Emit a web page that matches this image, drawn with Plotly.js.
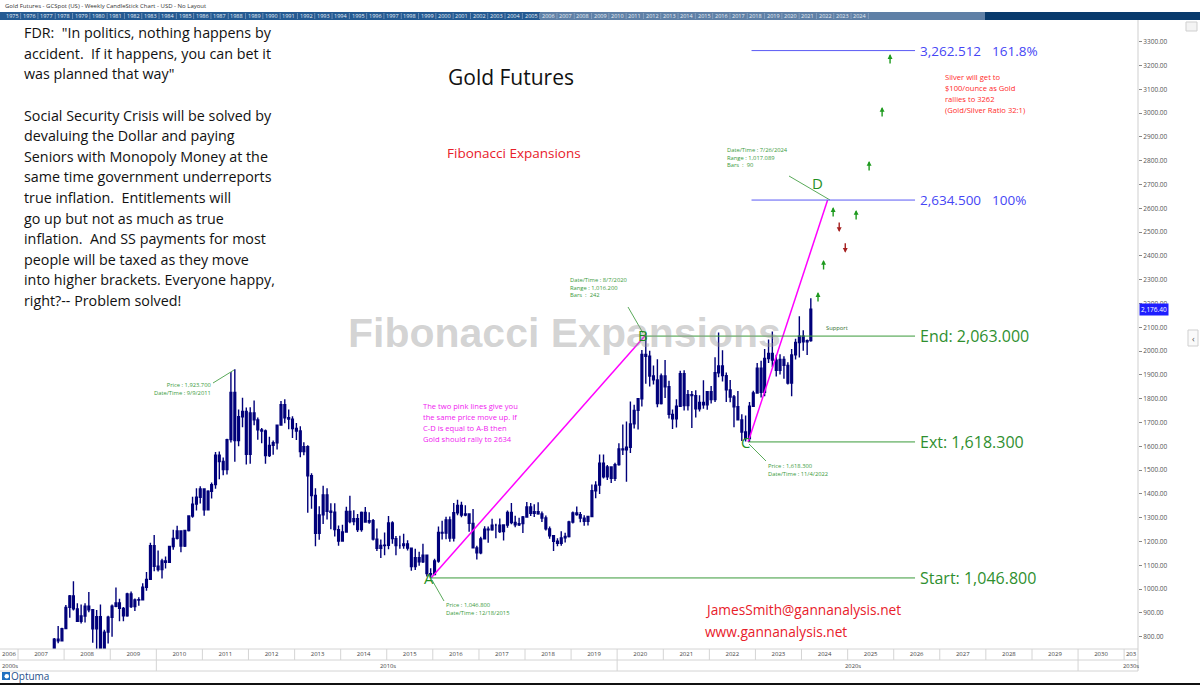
<!DOCTYPE html>
<html><head><meta charset="utf-8">
<script src="https://cdn.plot.ly/plotly-3.0.1.min.js"></script>
<style>html,body{margin:0;padding:0;background:#fff;} #chart{width:1200px;height:685px;}</style>
</head><body><div id="chart"></div>
<script>
// ---------------- DATA (monthly candles) ----------------
const monthDates = [
'2007-06-15','2007-07-15','2007-08-15','2007-09-15','2007-10-15','2007-11-15','2007-12-15',
'2008-01-15','2008-02-15','2008-03-15','2008-04-15','2008-05-15','2008-06-15','2008-07-15','2008-08-15','2008-09-15','2008-10-15','2008-11-15','2008-12-15',
'2009-01-15','2009-02-15','2009-03-15','2009-04-15','2009-05-15','2009-06-15','2009-07-15','2009-08-15','2009-09-15','2009-10-15','2009-11-15','2009-12-15',
'2010-01-15','2010-02-15','2010-03-15','2010-04-15','2010-05-15','2010-06-15','2010-07-15','2010-08-15','2010-09-15','2010-10-15','2010-11-15','2010-12-15',
'2011-01-15','2011-02-15','2011-03-15','2011-04-15','2011-05-15','2011-06-15','2011-07-15','2011-08-15','2011-09-15','2011-10-15','2011-11-15','2011-12-15',
'2012-01-15','2012-02-15','2012-03-15','2012-04-15','2012-05-15','2012-06-15','2012-07-15','2012-08-15','2012-09-15','2012-10-15','2012-11-15','2012-12-15',
'2013-01-15','2013-02-15','2013-03-15','2013-04-15','2013-05-15','2013-06-15','2013-07-15','2013-08-15','2013-09-15','2013-10-15','2013-11-15','2013-12-15',
'2014-01-15','2014-02-15','2014-03-15','2014-04-15','2014-05-15','2014-06-15','2014-07-15','2014-08-15','2014-09-15','2014-10-15','2014-11-15','2014-12-15',
'2015-01-15','2015-02-15','2015-03-15','2015-04-15','2015-05-15','2015-06-15','2015-07-15','2015-08-15','2015-09-15','2015-10-15','2015-11-15','2015-12-15',
'2016-01-15','2016-02-15','2016-03-15','2016-04-15','2016-05-15','2016-06-15','2016-07-15','2016-08-15','2016-09-15','2016-10-15','2016-11-15','2016-12-15',
'2017-01-15','2017-02-15','2017-03-15','2017-04-15','2017-05-15','2017-06-15','2017-07-15','2017-08-15','2017-09-15','2017-10-15','2017-11-15','2017-12-15',
'2018-01-15','2018-02-15','2018-03-15','2018-04-15','2018-05-15','2018-06-15','2018-07-15','2018-08-15','2018-09-15','2018-10-15','2018-11-15','2018-12-15',
'2019-01-15','2019-02-15','2019-03-15','2019-04-15','2019-05-15','2019-06-15','2019-07-15','2019-08-15','2019-09-15','2019-10-15','2019-11-15','2019-12-15',
'2020-01-15','2020-02-15','2020-03-15','2020-04-15','2020-05-15','2020-06-15','2020-07-15','2020-08-15','2020-09-15','2020-10-15','2020-11-15','2020-12-15',
'2021-01-15','2021-02-15','2021-03-15','2021-04-15','2021-05-15','2021-06-15','2021-07-15','2021-08-15','2021-09-15','2021-10-15','2021-11-15','2021-12-15',
'2022-01-15','2022-02-15','2022-03-15','2022-04-15','2022-05-15','2022-06-15','2022-07-15','2022-08-15','2022-09-15','2022-10-15','2022-11-15','2022-12-15',
'2023-01-15','2023-02-15','2023-03-15','2023-04-15','2023-05-15','2023-06-15','2023-07-15','2023-08-15','2023-09-15','2023-10-15','2023-11-15','2023-12-15',
'2024-01-15','2024-02-15','2024-03-15'
];
const openP = [
659,650,666,673,743,789,783,
834,923,971,917,865,887,928,913,833,884,718,819,
882,928,942,919,888,980,927,954,955,1008,1041,1182,
1096,1082,1118,1113,1179,1213,1244,1181,1246,1307,1357,1386,
1421,1333,1411,1439,1563,1536,1502,1628,1826,1624,1724,1746,
1566,1740,1711,1669,1664,1561,1604,1615,1689,1775,1720,1714,
1675,1664,1578,1598,1476,1393,1234,1312,1396,1327,1323,1250,
1202,1240,1326,1284,1296,1250,1322,1282,1287,1210,1171,1183,
1184,1278,1212,1183,1183,1190,1172,1095,1132,1115,1142,1065,
1061,1118,1238,1235,1291,1214,1321,1351,1311,1316,1276,1173,
1152,1211,1252,1249,1268,1268,1242,1269,1322,1280,1270,1275,
1303,1345,1318,1325,1316,1299,1253,1224,1201,1192,1215,1221,
1282,1320,1313,1298,1285,1305,1413,1437,1529,1472,1513,1465,
1523,1589,1585,1596,1694,1751,1800,1986,1978,1895,1879,1780,
1895,1850,1734,1715,1768,1905,1771,1817,1813,1757,1784,1774,
1829,1796,1909,1937,1897,1837,1807,1766,1711,1660,1633,1768,
1824,1928,1827,1969,1990,1962,1919,1965,1940,1866,1984,2036,
2062,2039,2044
];
const highP = [
672,684,679,745,795,845,838,
933,975,1033,941,935,940,988,916,912,935,829,888,
935,1007,959,925,985,990,960,966,1025,1072,1195,1227,
1162,1127,1137,1182,1249,1266,1245,1248,1310,1388,1424,1432,
1424,1415,1448,1576,1578,1553,1632,1912,1923.7,1755,1804,1763,
1764,1792,1721,1677,1670,1640,1624,1692,1790,1798,1755,1726,
1698,1684,1617,1604,1487,1424,1348,1434,1424,1361,1361,1267,
1270,1346,1392,1331,1315,1326,1345,1323,1294,1255,1208,1238,
1307,1285,1223,1224,1232,1205,1175,1170,1157,1191,1142,1088,
1128,1263,1287,1304,1305,1362,1375,1367,1352,1317,1337,1182,
1220,1264,1263,1296,1275,1297,1272,1330,1362,1308,1300,1307,
1366,1362,1356,1365,1326,1309,1263,1227,1214,1243,1237,1287,
1326,1347,1324,1310,1306,1439,1453,1566,1566,1521,1514,1531,
1613,1691,1704,1788,1775,1800,2005,2075,2001,1939,1966,1906,
1962,1875,1755,1798,1917,1919,1836,1832,1835,1814,1877,1831,
1853,1974,2078,2003,1910,1879,1815,1832,1735,1729,1786,1833,
1950,1959,2009,2049,2082,1985,1987,1978,1953,2009,2052,2146,
2088,2049,2222
];
const lowP = [
642,647,652,670,723,772,782,
832,880,910,863,855,860,903,775,736,681,700,771,
800,924,865,865,884,921,908,930,952,993,1040,1075,
1074,1045,1087,1113,1165,1208,1155,1177,1242,1300,1330,1360,
1308,1330,1381,1422,1462,1478,1481,1616,1535,1600,1680,1523,
1527,1688,1627,1613,1527,1555,1564,1587,1687,1697,1672,1635,
1626,1554,1562,1321,1338,1180,1207,1274,1292,1251,1221,1182,
1200,1238,1277,1268,1240,1241,1280,1275,1204,1160,1131,1142,
1167,1191,1142,1170,1170,1162,1077,1080,1098,1110,1053,1046.8,
1061,1111,1208,1209,1199,1200,1310,1302,1306,1241,1171,1124,
1146,1208,1195,1245,1214,1236,1204,1258,1272,1260,1265,1236,
1303,1307,1303,1312,1282,1246,1211,1160,1180,1182,1196,1217,
1276,1308,1281,1266,1267,1302,1382,1400,1465,1458,1446,1454,
1518,1563,1451,1572,1675,1671,1767,1863,1851,1860,1764,1776,
1803,1717,1673,1679,1766,1750,1750,1677,1721,1746,1758,1753,
1780,1786,1890,1872,1786,1785,1680,1711,1622,1620,1618.3,1765,
1824,1805,1810,1950,1932,1893,1902,1884,1860,1810,1965,1973,
2001,1984,2039
];
const closeP = [
650,666,673,743,789,783,834,
923,971,917,865,887,928,913,833,884,718,819,882,
928,942,919,888,980,927,954,955,1008,1041,1182,1096,
1082,1118,1113,1179,1213,1244,1181,1246,1307,1357,1386,1421,
1333,1411,1439,1563,1536,1502,1628,1826,1624,1724,1746,1566,
1740,1711,1669,1664,1561,1604,1615,1689,1775,1720,1714,1675,
1664,1578,1598,1476,1393,1234,1312,1396,1327,1323,1250,1202,
1240,1326,1284,1296,1250,1322,1282,1287,1210,1171,1183,1184,
1278,1212,1183,1183,1190,1172,1095,1132,1115,1142,1065,1061,
1118,1238,1235,1291,1214,1321,1351,1311,1316,1276,1173,1152,
1211,1252,1249,1268,1268,1242,1269,1322,1280,1270,1275,1303,
1345,1318,1325,1316,1299,1253,1224,1201,1192,1215,1221,1282,
1320,1313,1298,1285,1305,1413,1437,1529,1472,1513,1465,1523,
1589,1585,1596,1694,1751,1800,1986,1978,1895,1879,1780,1895,
1850,1734,1715,1768,1905,1771,1817,1813,1757,1784,1774,1829,
1796,1909,1937,1897,1837,1807,1766,1711,1660,1633,1768,1824,
1928,1827,1969,1990,1962,1919,1965,1940,1866,1984,2036,2062,
2039,2044,2176.4
];
const lastPrice = 2176.40;

// pivots A-B-C-D
const pivotNames  = ['A','B','C','D'];
const pivotDates  = ['2015-12-18','2020-08-07','2022-11-04','2024-07-26'];
const pivotPrices = [1046.8, 2063.0, 1618.3, 2634.5];

// Fibonacci expansion levels
const fibLevels     = [1046.8, 1618.3, 2063.0, 2634.5, 3262.512];
const fibNames      = ['Start: 1,046.800','Ext: 1,618.300','End: 2,063.000','2,634.500','3,262.512'];
const fibPercents   = ['','','','100%','161.8%'];
const fibStartDates = ['2015-12-18','2022-11-04','2020-08-07','2022-12-01','2022-12-01'];
const fibEndDate    = '2026-06-19';

// projected arrows
const upArrowDates   = ['2024-05-11','2024-06-24','2024-09-08','2025-03-09','2025-06-20','2025-10-01','2025-12-03'];
const upArrowPrices  = [2248, 2383, 2605, 2593, 2799, 3026, 3248];
const downArrowDates = ['2024-10-26','2024-12-13'];
const downArrowPrices= [2500, 2413];

// axis labels
const yearTickLabels = ['2006','2007','2008','2009','2010','2011','2012','2013','2014','2015','2016','2017','2018','2019','2020','2021','2022','2023','2024','2025','2026','2027','2028','2029','2030','203'];
const decadeLabels = ['2000s','2010s','2020s','2030s'];
const stripYears = ['1975','1976','1977','1978','1979','1980','1981','1982','1983','1984','1985','1986','1987','1988','1989','1990','1991','1992','1993','1994','1995','1996','1997','1998','1999','2000','2001','2002','2003','2004','2005','2006','2007','2008','2009','2010','2011','2012','2013','2014','2015','2016','2017','2018','2019','2020','2021','2022','2023','2024'];

// texts
const quoteLines = [
 'FDR:  "In politics, nothing happens by',
 'accident.  If it happens, you can bet it',
 'was planned that way"',
 '',
 'Social Security Crisis will be solved by',
 'devaluing the Dollar and paying',
 'Seniors with Monopoly Money at the',
 'same time government underreports',
 'true inflation.  Entitlements will',
 'go up but not as much as true',
 'inflation.  And SS payments for most',
 'people will be taxed as they move',
 'into higher brackets. Everyone happy,',
 'right?-- Problem solved!'
];
const pinkNoteLines = ['The two pink lines give you','the same price move up. If','C-D is equal to A-B then','Gold should rally to 2634'];
const silverLines = ['Silver will get to','$100/ounce as Gold','rallies to 3262','(Gold/Silver Ratio 32:1)'];

// ---------------- LAYOUT HELPERS ----------------
const W=1200, H=685, ML=0, MR=62, MT=20, MB=36;
const PW=W-ML-MR, PH=H-MT-MB;
const px = x => (x-ML)/PW;
const py = y => (H-MB-y)/PH;
const FONT = 'Open Sans, Noto Sans, sans-serif';

const annotations = [];
const shapes = [];
function txt(x, y, text, size, color, anchor, extra) {
  const a = anchor||'left';
  const xx = a==='left' ? x-2 : (a==='right' ? x+2 : x);
  annotations.push(Object.assign({xref:'paper', yref:'paper', x:px(xx), y:py(y), text:text, showarrow:false,
    xanchor:a, yanchor:'middle', font:{family:FONT, size:size, color:color}}, extra||{}));
}
function pline(x0,y0,x1,y1,color,width) {
  shapes.push({type:'line', xref:'paper', yref:'paper', x0:px(x0), y0:py(y0), x1:px(x1), y1:py(y1), line:{color:color, width:width||1}});
}

// header and navigator strip
txt(5, 6, 'Gold Futures - GCSpot (US) - Weekly CandleStick Chart - USD - No Layout', 6, '#333');
shapes.push({type:'rect', xref:'paper', yref:'paper', x0:px(0), x1:px(540), y0:py(20), y1:py(12), fillcolor:'#245a92', line:{width:0}});
shapes.push({type:'rect', xref:'paper', yref:'paper', x0:px(540), x1:px(985), y0:py(20), y1:py(12), fillcolor:'#5f80a6', line:{width:0}});
shapes.push({type:'rect', xref:'paper', yref:'paper', x0:px(985), x1:px(1200), y0:py(20), y1:py(12), fillcolor:'#083a6c', line:{width:0}});
stripYears.forEach((yr,i)=>{
  const cx = 12 + i*17.3;
  txt(cx, 16, yr, 5.5, '#e6edf5', 'center');
  pline(cx+8.65, 13, cx+8.65, 19, '#9fb4cc', 0.6);
});

// left quote block
quoteLines.forEach((ln,i)=>{ if(ln) txt(24, 32.7 + i*20.6, ln, 14.3, '#111'); });

// titles
txt(511, 77, 'Gold Futures', 21, '#111', 'center');
txt(514, 153, 'Fibonacci Expansions', 13.5, '#e8202a', 'center');
txt(564, 333, '<b>Fibonacci Expansions</b>', 41, 'rgba(150,150,150,0.42)', 'center', {font:{family:'Liberation Sans, Arial, sans-serif', size:41, color:'rgba(150,150,150,0.42)'}});

// notes
pinkNoteLines.forEach((ln,i)=> txt(423, 405.7 + i*11.2, ln, 7.6, '#f020f0'));
silverLines.forEach((ln,i)=> txt(945, 76.7 + i*11.2, ln, 7.6, '#ff2a2a'));
txt(705, 609, 'JamesSmith@gannanalysis.net', 13.7, '#e8202a');
txt(705, 631, 'www.gannanalysis.net', 13.7, '#e8202a');
txt(826, 328, 'Support', 5.8, '#2e6e2e');

// small pivot info labels and leaders
const GREEN_S = '#3a9a3a';
txt(211, 388.5, 'Price : 1,923.700<br>Date/Time : 9/9/2011', 5.8, GREEN_S, 'right', {align:'right'});
pline(213, 383, 234, 370, '#5aaa5a', 1);
txt(570, 287, 'Date/Time : 8/7/2020<br>Range : 1,016.200<br>Bars  :  242', 5.8, GREEN_S, 'left', {align:'left'});
pline(628, 307, 643, 333, '#5aaa5a', 1);
txt(727, 157, 'Date/Time : 7/26/2024<br>Range : 1,017.089<br>Bars  :  90', 5.8, GREEN_S, 'left', {align:'left'});
pline(789, 176, 830, 200, '#5aaa5a', 1);
txt(768, 470, 'Price : 1,618.300<br>Date/Time : 11/4/2022', 5.8, GREEN_S, 'left', {align:'left'});
pline(749, 444, 766, 461, '#5aaa5a', 1);
txt(446, 609, 'Price : 1,046.800<br>Date/Time : 12/18/2015', 5.8, GREEN_S, 'left', {align:'left'});
pline(432, 580, 444, 601, '#5aaa5a', 1);

// pink A-B and C-D lines
[[0,1],[2,3]].forEach(([a,b])=>{
  shapes.push({type:'line', xref:'x', yref:'y', x0:pivotDates[a], y0:pivotPrices[a], x1:pivotDates[b], y1:pivotPrices[b], line:{color:'#ff00ff', width:1.5}});
});
// pivot letters
const letterShift = [[-2,0],[-2,1],[-3,0],[-10,17]];
pivotNames.forEach((n,i)=>{
  annotations.push({xref:'x', yref:'y', x:pivotDates[i], y:pivotPrices[i], text:n, showarrow:false,
    xshift:letterShift[i][0], yshift:letterShift[i][1], font:{family:FONT, size:15, color:'#1f8f1f'}});
});

// Fibonacci levels
fibLevels.forEach((lv,i)=>{
  const blue = fibPercents[i] !== '';
  const col = blue ? '#4646f5' : '#2f8f2f';
  shapes.push({type:'line', xref:'x', yref:'y', x0:fibStartDates[i], x1:fibEndDate, y0:lv, y1:lv, line:{color: blue ? '#5a5af5' : '#3a9a3a', width:1}});
  annotations.push({xref:'x', yref:'y', x:fibEndDate, y:lv, text:fibNames[i], showarrow:false, xanchor:'left', xshift:3,
    font:{family:FONT, size:blue?13.5:16, color:col}});
  if (blue) annotations.push({xref:'paper', yref:'y', x:px(990), y:lv, text:fibPercents[i], showarrow:false, xanchor:'left',
    font:{family:FONT, size:13.5, color:col}});
});

// projected arrows
upArrowDates.forEach((d,i)=> annotations.push({xref:'x', yref:'y', x:d, y:upArrowPrices[i], ax:0, ay:11, text:'', showarrow:true,
  arrowhead:2, arrowsize:0.7, arrowwidth:1.4, arrowcolor:'#1e9a1e', standoff:0}));
downArrowDates.forEach((d,i)=> annotations.push({xref:'x', yref:'y', x:d, y:downArrowPrices[i], ax:0, ay:-11, text:'', showarrow:true,
  arrowhead:2, arrowsize:0.7, arrowwidth:1.4, arrowcolor:'#a52020', standoff:0}));

// last price tag
annotations.push({xref:'paper', yref:'y', x:px(1139), y:lastPrice, text:'2,176.40', showarrow:false, xanchor:'left',
  bgcolor:'#1e1eff', borderpad:1, font:{family:FONT, size:6.5, color:'#fff'}});

// bottom axis rows
const row1Top=649, row1Bot=660, row2Bot=671;
[row1Top,row1Bot,row2Bot].forEach(y=> pline(0,y,1138,y,'#d4d4d4',1));
pline(1138, 20, 1138, row2Bot, '#cfcfcf', 1);
for (let yr=2007; yr<=2031; yr++) {
  shapes.push({type:'line', xref:'x', yref:'paper', x0:yr+'-01-01', x1:yr+'-01-01', y0:py(row1Bot), y1:py(row1Top), line:{color:'#d4d4d4', width:1}});
}
['2010','2020','2030'].forEach(yr=> shapes.push({type:'line', xref:'x', yref:'paper', x0:yr+'-01-01', x1:yr+'-01-01', y0:py(row2Bot), y1:py(row1Bot), line:{color:'#d4d4d4', width:1}}));
txt(2, 665.5, decadeLabels[0], 5.8, '#444', 'left');
txt(388, 665.5, decadeLabels[1], 5.8, '#444', 'center');
txt(853, 665.5, decadeLabels[2], 5.8, '#444', 'center');
txt(1131, 665.5, decadeLabels[3], 5.8, '#444', 'center');
const yearTickDates = yearTickLabels.map((l,i)=> i===0 ? '2006-10-21' : (i===yearTickLabels.length-1 ? '2031-02-25' : l+'-07-02'));

// Optuma logo
shapes.push({type:'rect', xref:'paper', yref:'paper', x0:px(2), x1:px(10), y0:py(680), y1:py(672), fillcolor:'#1f6fc0', line:{width:0}});
shapes.push({type:'circle', xref:'paper', yref:'paper', x0:px(4.5), x1:px(9), y0:py(678.5), y1:py(674), fillcolor:'#fff', line:{width:0}});
txt(11, 676, 'Optuma', 10, '#1f4f8c', 'left');
shapes.push({type:'rect', xref:'paper', yref:'paper', x0:px(0), x1:px(1200), y0:py(685), y1:py(683), fillcolor:'#111', line:{width:0}});
// side controls
shapes.push({type:'rect', xref:'paper', yref:'paper', x0:px(1188), x1:px(1198), y0:py(346), y1:py(330), fillcolor:'#fafafa', line:{color:'#cfcfcf', width:1}});
txt(1193, 338, '‹', 9, '#555', 'center');
shapes.push({type:'rect', xref:'paper', yref:'paper', x0:px(1186), x1:px(1197), y0:py(31), y1:py(22), fillcolor:'#f4f4f4', line:{color:'#cfcfcf', width:1}});

const trace = {
  type:'candlestick', x:monthDates, open:openP, high:highP, low:lowP, close:closeP,
  increasing:{line:{color:'#00007a', width:1.4}, fillcolor:'#00007a'},
  decreasing:{line:{color:'#00007a', width:1.4}, fillcolor:'#00007a'},
  whiskerwidth:0, hoverinfo:'skip', showlegend:false
};

const layout = {
  width:W, height:H, margin:{l:ML, r:MR, t:MT, b:MB, pad:0},
  paper_bgcolor:'#fff', plot_bgcolor:'#fff', showlegend:false,
  xaxis:{type:'date', range:['2006-08-11','2031-04-21'], rangeslider:{visible:false},
    showgrid:false, zeroline:false, showline:false, ticks:'', tickmode:'array',
    tickvals:yearTickDates, ticktext:yearTickLabels, tickfont:{family:FONT, size:6, color:'#444'}, ticklabelstandoff:0},
  yaxis:{side:'right', range:[748.3, 3391], showgrid:false, zeroline:false, showline:false,
    ticks:'outside', ticklen:3, tickcolor:'#888', dtick:100, tick0:0, tickformat:'.2f',
    tickfont:{family:FONT, size:6.5, color:'#555'}},
  annotations:annotations, shapes:shapes
};
Plotly.newPlot('chart', [trace], layout, {displayModeBar:false, staticPlot:true});
</script></body></html>
